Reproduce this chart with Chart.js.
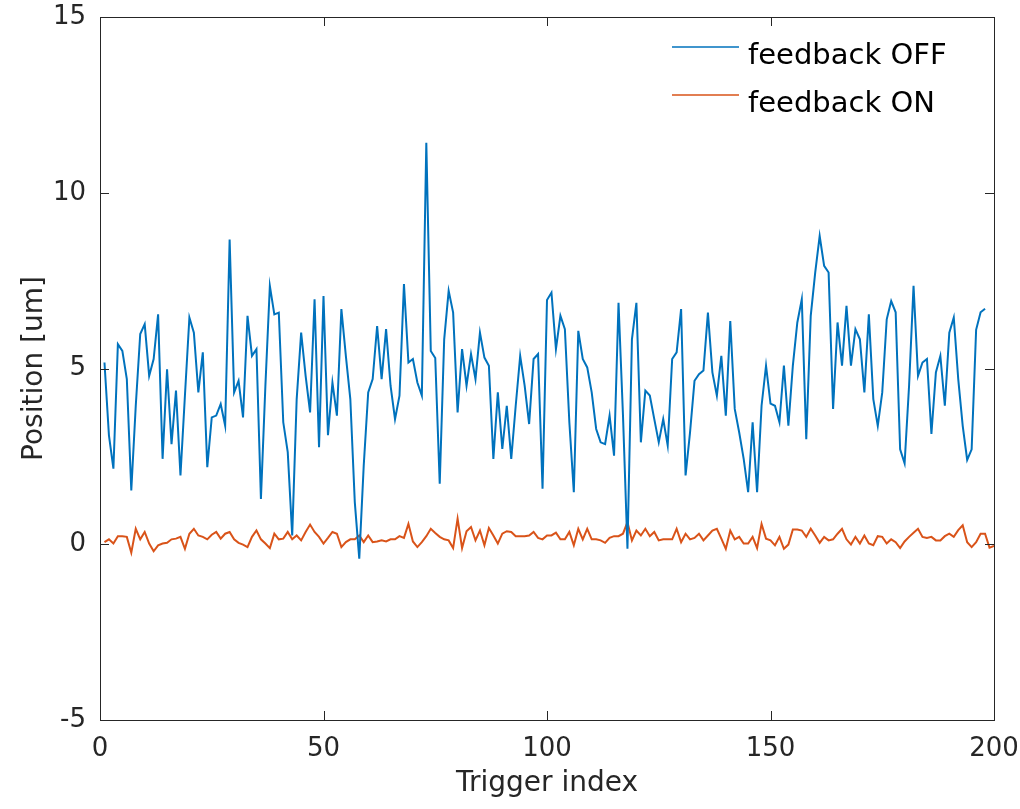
<!DOCTYPE html>
<html>
<head>
<meta charset="utf-8">
<title>Position vs trigger index</title>
<script src="https://cdn.jsdelivr.net/npm/chart.js@4.4.1/dist/chart.umd.min.js"></script>
<style>
    html, body { margin: 0; padding: 0; background: #ffffff; }
    canvas { display: block; }
</style>
</head>
<body>
<canvas id="chart" width="1020" height="809"></canvas>
<script>
// position readings, um (trigger index starts at 1)
var feedbackOff = [
    5.17, 3.1, 2.15, 5.69, 5.5, 4.7, 1.53, 3.94, 5.98, 6.26,
    4.79, 5.27, 6.54, 2.43, 4.98, 2.85, 4.37, 1.96, 4.23, 6.45,
    6.02, 4.32, 5.46, 2.19, 3.61, 3.66, 3.99, 3.37, 8.67, 4.32,
    4.65, 3.61, 6.5, 5.36, 5.55, 1.29, 4.51, 7.35, 6.54, 6.59,
    3.47, 2.62, 0.25, 4.13, 6.02, 4.79, 3.75, 6.97, 2.76, 7.06,
    3.1, 4.6, 3.66, 6.69, 5.36, 4.13, 1.2, -0.41, 2.24, 4.32,
    4.7, 6.21, 4.7, 6.12, 4.51, 3.56, 4.23, 7.4, 5.17, 5.27,
    4.6, 4.23, 11.42, 5.5, 5.3, 1.72, 5.83, 7.21, 6.59, 3.75,
    5.55, 4.51, 5.41, 4.7, 6.02, 5.31, 5.08, 2.43, 4.32, 2.71,
    3.94, 2.43, 3.94, 5.36, 4.51, 3.42, 5.27, 5.41, 1.58, 6.95,
    7.16, 5.55, 6.5, 6.12, 3.47, 1.48, 6.07, 5.27, 5.03, 4.32,
    3.28, 2.9, 2.85, 3.66, 2.52, 6.87, 3.66, -0.13, 5.83, 6.87,
    2.9, 4.37, 4.23, 3.56, 2.9, 3.56, 2.81, 5.27, 5.46, 6.69,
    1.96, 3.18, 4.65, 4.84, 4.94, 6.59, 4.89, 4.23, 5.36, 3.66,
    6.35, 3.85, 3.18, 2.43, 1.48, 3.47, 1.48, 3.94, 5.08, 4.0,
    3.94, 3.47, 5.08, 3.37, 5.08, 6.31, 6.97, 2.99, 6.5, 7.73,
    8.77, 7.92, 7.73, 3.85, 6.31, 5.08, 6.78, 5.08, 6.12, 5.83,
    4.32, 6.54, 4.13, 3.37, 4.32, 6.4, 6.92, 6.6, 2.7, 2.3,
    4.51, 7.35, 4.79, 5.17, 5.27, 3.14, 4.89, 5.36, 3.94, 6.02,
    6.45, 4.7, 3.37, 2.4, 2.7, 6.1, 6.6, 6.7
];
var feedbackOn = [
    0.06, 0.14, 0.02, 0.23, 0.23, 0.21, -0.24, 0.44, 0.14, 0.35,
    0.02, -0.2, -0.03, 0.02, 0.04, 0.14, 0.16, 0.21, -0.13, 0.3,
    0.44, 0.25, 0.21, 0.14, 0.27, 0.35, 0.16, 0.3, 0.35, 0.14,
    0.04, -0.01, -0.08, 0.21, 0.39, 0.14, 0.02, -0.11, 0.3, 0.14,
    0.16, 0.35, 0.14, 0.25, 0.11, 0.35, 0.56, 0.35, 0.21, 0.02,
    0.18, 0.35, 0.3, -0.08, 0.06, 0.14, 0.14, 0.25, 0.06, 0.25,
    0.06, 0.08, 0.11, 0.08, 0.14, 0.14, 0.23, 0.18, 0.58, 0.08,
    -0.08, 0.06, 0.23, 0.44, 0.32, 0.21, 0.14, 0.11, -0.11, 0.73,
    -0.11, 0.37, 0.49, 0.11, 0.39, -0.03, 0.46, 0.25, 0.02, 0.3,
    0.37, 0.35, 0.23, 0.23, 0.23, 0.25, 0.35, 0.18, 0.14, 0.25,
    0.25, 0.33, 0.14, 0.14, 0.35, -0.03, 0.44, 0.14, 0.44, 0.14,
    0.14, 0.11, 0.04, 0.18, 0.23, 0.23, 0.3, 0.63, 0.11, 0.39,
    0.25, 0.44, 0.23, 0.35, 0.11, 0.14, 0.14, 0.14, 0.44, 0.06,
    0.3, 0.14, 0.18, 0.3, 0.11, 0.25, 0.39, 0.44, 0.16, -0.13,
    0.39, 0.14, 0.21, 0.02, 0.02, 0.21, -0.11, 0.58, 0.16, 0.11,
    -0.03, 0.21, -0.13, -0.01, 0.42, 0.42, 0.39, 0.21, 0.44, 0.25,
    0.04, 0.21, 0.11, 0.14, 0.3, 0.44, 0.14, -0.01, 0.21, 0.02,
    0.25, 0.02, -0.03, 0.23, 0.21, 0.02, 0.14, 0.06, -0.11, 0.08,
    0.21, 0.33, 0.44, 0.21, 0.18, 0.21, 0.11, 0.11, 0.23, 0.3,
    0.21, 0.4, 0.54, 0.06, -0.08, 0.06, 0.3, 0.3, -0.1, -0.05
];
var seriesNames = ['feedback OFF', 'feedback ON'];
var seriesColors = ['#0072BD', '#D95319'];
var xTicks = [0, 50, 100, 150, 200];
var yTicks = [-5, 0, 5, 10, 15];

function toPoints(values) {
    return values.map(function (v, i) { return { x: i + 1, y: v }; });
}

var ink = '#262626';
Chart.defaults.font.family = '"DejaVu Sans", "Liberation Sans", sans-serif';
Chart.defaults.color = ink;

// matlab style box, inward ticks and the legend inside the axes
var matlabAxes = {
    id: 'matlabAxes',
    afterDraw: function (chart) {
        var ctx = chart.ctx;
        var a = chart.chartArea;
        var xs = chart.scales.x, ys = chart.scales.y;
        var len = 9;
        ctx.save();
        ctx.strokeStyle = ink;
        ctx.lineWidth = 1;
        ctx.strokeRect(Math.round(a.left) + 0.5, Math.round(a.top) + 0.5,
            Math.round(a.right - a.left), Math.round(a.bottom - a.top));
        ctx.beginPath();
        xs.ticks.forEach(function (t) {
            var px = Math.round(xs.getPixelForValue(t.value)) + 0.5;
            ctx.moveTo(px, a.bottom); ctx.lineTo(px, a.bottom - len);
            ctx.moveTo(px, a.top); ctx.lineTo(px, a.top + len);
        });
        ys.ticks.forEach(function (t) {
            var py = Math.round(ys.getPixelForValue(t.value)) + 0.5;
            ctx.moveTo(a.left, py); ctx.lineTo(a.left + len, py);
            ctx.moveTo(a.right, py); ctx.lineTo(a.right - len, py);
        });
        ctx.stroke();

        // legend
        var lx = a.right - 322, ly = a.top + 30, gap = 48;
        ctx.font = '29px "DejaVu Sans", sans-serif';
        ctx.textBaseline = 'alphabetic';
        ctx.textAlign = 'left';
        chart.data.datasets.forEach(function (ds, i) {
            var y = ly + i * gap;
            ctx.strokeStyle = ds.borderColor;
            ctx.lineWidth = 1.5;
            ctx.beginPath();
            ctx.moveTo(lx, y);
            ctx.lineTo(lx + 67, y);
            ctx.stroke();
            ctx.fillStyle = '#000000';
            ctx.fillText(ds.label, lx + 76, y + 17);
        });
        ctx.restore();
    }
};

var ctx = document.getElementById('chart').getContext('2d');
var myChart = new Chart(ctx, {
    type: 'line',
    data: {
        datasets: [{
            label: seriesNames[0],
            data: toPoints(feedbackOff),
            borderColor: seriesColors[0],
            backgroundColor: seriesColors[0],
            borderWidth: 2,
            pointRadius: 0,
            tension: 0
        }, {
            label: seriesNames[1],
            data: toPoints(feedbackOn),
            borderColor: seriesColors[1],
            backgroundColor: seriesColors[1],
            borderWidth: 2,
            pointRadius: 0,
            tension: 0
        }]
    },
    options: {
        responsive: false,
        animation: false,
        devicePixelRatio: 1,
        layout: { padding: { top: 17, right: 26, left: 0, bottom: 0 } },
        plugins: {
            legend: { display: false },
            tooltip: { enabled: false }
        },
        scales: {
            x: {
                type: 'linear',
                min: xTicks[0],
                max: xTicks[xTicks.length - 1],
                afterBuildTicks: function (scale) {
                    scale.ticks = xTicks.map(function (v) { return { value: v }; });
                },
                afterFit: function (scale) {
                    scale.height = 89;
                    scale.paddingLeft = 0;
                    scale.paddingRight = 0;
                },
                grid: { display: false, drawTicks: false },
                border: { display: false },
                ticks: { padding: 14, font: { size: 26 }, color: ink, maxRotation: 0 },
                title: {
                    display: true,
                    text: 'Trigger index',
                    font: { size: 28 },
                    color: ink,
                    padding: { top: 0, bottom: 8 }
                }
            },
            y: {
                type: 'linear',
                min: yTicks[0],
                max: yTicks[yTicks.length - 1],
                afterBuildTicks: function (scale) {
                    scale.ticks = yTicks.map(function (v) { return { value: v }; });
                },
                afterFit: function (scale) {
                    scale.width = 100;
                    scale.paddingTop = 0;
                    scale.paddingBottom = 0;
                },
                grid: { display: false, drawTicks: false },
                border: { display: false },
                ticks: {
                    padding: 14,
                    font: { size: 26 },
                    color: ink,
                    callback: function (v) { return String(v); }
                },
                title: {
                    display: true,
                    text: 'Position [um]',
                    font: { size: 28 },
                    color: ink,
                    padding: { top: 18, bottom: 0 }
                }
            }
        }
    },
    plugins: [matlabAxes]
});
</script>
</body>
</html>
